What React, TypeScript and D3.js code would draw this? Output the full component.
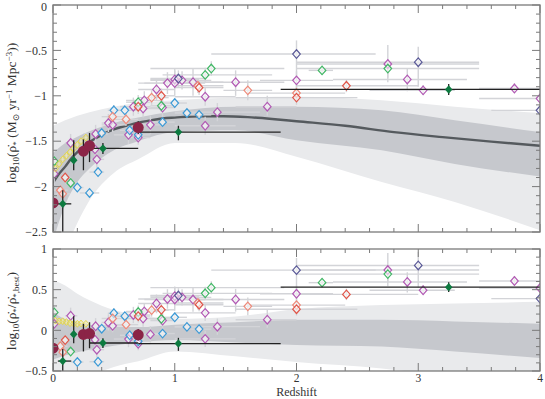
import React from 'react';
import * as d3 from 'd3';

const W = 545;
const H = 399;

// best-fit history (upper panel)
const fitZ = [0, 0.05, 0.1, 0.15, 0.2, 0.25, 0.3, 0.4, 0.5, 0.6, 0.7, 0.8, 0.9, 1.0, 1.2, 1.4, 1.6, 1.8, 2.0, 2.4, 2.8, 3.2, 3.6, 4.0];
const fitV = [-1.96, -1.86, -1.78, -1.69, -1.62, -1.56, -1.51, -1.43, -1.37, -1.33, -1.295, -1.27, -1.25, -1.24, -1.225, -1.225, -1.235, -1.255, -1.28, -1.33, -1.4, -1.455, -1.505, -1.55];

// confidence bands
const bandZ = [0, 0.1, 0.2, 0.3, 0.5, 0.7, 1.0, 1.5, 2.0, 2.7, 3.3, 4.0];
const topOutHi = [-1.33, -1.27, -1.22, -1.18, -1.12, -1.08, -1.05, -1.02, -1.01, -1.05, -1.12, -1.19];
const topInHi = [-1.63, -1.52, -1.45, -1.39, -1.3, -1.24, -1.17, -1.12, -1.12, -1.16, -1.27, -1.4];
const topInLo = [-2.6, -2.2, -1.95, -1.8, -1.6, -1.5, -1.4, -1.38, -1.49, -1.6, -1.75, -1.89];
const topOutLo = [-3.0, -2.7, -2.4, -2.15, -1.85, -1.7, -1.52, -1.52, -1.67, -1.95, -2.17, -2.48];
const resOutHi = [0.62, 0.55, 0.45, 0.37, 0.25, 0.19, 0.14, 0.17, 0.26, 0.31, 0.33, 0.35];
const resInHi = [0.22, 0.14, 0.1, 0.07, 0.04, 0.04, 0.07, 0.1, 0.13, 0.13, 0.11, 0.08];
const resInLo = [-0.36, -0.31, -0.27, -0.24, -0.19, -0.15, -0.12, -0.15, -0.18, -0.2, -0.26, -0.34];
const resOutLo = [-1.2, -0.9, -0.7, -0.58, -0.45, -0.38, -0.26, -0.32, -0.39, -0.47, -0.58, -0.75];

// measurements: [z, value, zLo, zHi, vLo, vHi]
const purplePts = [
  [0.01, -1.86, 0.0, 0.03, -1.98, -1.74],
  [0.145, -1.52, 0.1, 0.2, -1.62, -1.42],
  [0.345, -1.59, 0.3, 0.4, -1.68, -1.5],
  [0.36, -1.7, 0.3, 0.42, -1.8, -1.6],
  [0.35, -1.42, 0.25, 0.45, -1.52, -1.32],
  [0.455, -1.3, 0.4, 0.5, -1.4, -1.2],
  [0.49, -1.32, 0.4, 0.6, -1.4, -1.24],
  [0.62, -1.43, 0.5, 0.75, -1.53, -1.33],
  [0.66, -1.12, 0.55, 0.8, -1.22, -1.02],
  [0.7, -1.46, 0.6, 0.8, -1.54, -1.38],
  [0.74, -1.14, 0.6, 0.9, -1.24, -1.04],
  [0.75, -1.05, 0.6, 0.9, -1.15, -0.95],
  [0.8, -1.32, 0.7, 0.9, -1.42, -1.22],
  [0.85, -0.93, 0.7, 1.0, -1.05, -0.82],
  [0.9, -1.13, 0.8, 1.0, -1.23, -1.03],
  [0.94, -0.86, 0.7, 1.2, -0.98, -0.74],
  [1.0, -0.82, 0.8, 1.2, -0.92, -0.7],
  [1.0, -0.86, 0.75, 1.25, -1.0, -0.72],
  [1.06, -0.83, 0.8, 1.3, -0.93, -0.73],
  [1.15, -0.85, 0.9, 1.4, -1.0, -0.7],
  [1.25, -1.01, 1.0, 1.5, -1.11, -0.91],
  [1.25, -1.33, 1.0, 1.5, -1.43, -1.23],
  [1.35, -1.18, 1.0, 1.7, -1.28, -1.08],
  [1.5, -0.85, 1.1, 1.9, -1.0, -0.72],
  [1.76, -1.12, 1.5, 2.0, -1.22, -1.0],
  [2.0, -0.83, 1.7, 2.3, -0.95, -0.73],
  [2.75, -0.65, 2.0, 3.5, -0.85, -0.44],
  [2.91, -0.82, 2.3, 3.4, -0.95, -0.7],
  [3.04, -0.94, 2.6, 3.3, -0.99, -0.88],
  [3.79, -0.92, 3.5, 4.0, -0.97, -0.86],
  [4.0, -1.03, 3.5, 4.1, -1.08, -0.98],
];
const bluePts = [
  [0.2, -2.01, 0.15, 0.25, -2.06, -1.96],
  [0.3, -2.07, 0.22, 0.38, -2.12, -2.02],
  [0.37, -1.84, 0.3, 0.42, -1.89, -1.79],
  [0.4, -1.41, 0.35, 0.45, -1.46, -1.36],
  [0.5, -1.16, 0.45, 0.55, -1.22, -1.1],
  [0.59, -1.16, 0.5, 0.7, -1.21, -1.11],
  [0.63, -1.38, 0.55, 0.7, -1.43, -1.33],
  [0.7, -1.43, 0.6, 0.8, -1.48, -1.38],
  [0.9, -1.29, 0.8, 1.0, -1.34, -1.24],
  [1.0, -1.08, 0.9, 1.1, -1.13, -1.03],
  [1.1, -1.19, 1.0, 1.2, -1.24, -1.14],
  [1.2, -1.21, 1.1, 1.3, -1.26, -1.16],
];
const greenPts = [
  [0.01, -1.72, 0.0, 0.03, -1.78, -1.66],
  [0.145, -1.96, 0.1, 0.2, -2.01, -1.91],
  [0.7, -1.07, 0.6, 0.8, -1.15, -0.99],
  [0.89, -1.11, 0.8, 1.0, -1.18, -1.04],
  [1.25, -0.77, 0.9, 1.8, -0.85, -0.69],
  [1.3, -0.7, 0.8, 1.9, -0.78, -0.62],
  [2.21, -0.72, 2.1, 2.3, -0.77, -0.67],
  [2.75, -0.7, 2.0, 3.5, -0.8, -0.6],
];
const salmonPts = [
  [0.06, -2.04, 0.0, 0.12, -2.1, -1.98],
  [0.08, -2.08, 0.02, 0.14, -2.14, -2.02],
  [0.49, -1.23, 0.4, 0.6, -1.3, -1.16],
  [0.6, -1.26, 0.5, 0.7, -1.33, -1.19],
  [0.81, -1.02, 0.7, 0.95, -1.1, -0.94],
  [1.19, -0.89, 1.0, 1.4, -0.97, -0.81],
  [1.6, -0.94, 1.4, 1.8, -1.05, -0.83],
  [2.0, -0.97, 1.6, 2.4, -1.07, -0.87],
];
const redPts = [
  [0.1, -1.9, 0.05, 0.15, -1.95, -1.85],
  [0.7, -1.12, 0.6, 0.8, -1.2, -1.04],
  [0.89, -1.0, 0.8, 1.0, -1.08, -0.92],
  [1.2, -0.91, 1.0, 1.4, -0.99, -0.83],
  [2.0, -1.02, 1.5, 2.5, -1.1, -0.94],
  [2.41, -0.89, 2.0, 3.0, -0.96, -0.82],
];
const navyPts = [
  [1.03, -0.81, 0.8, 1.25, -0.9, -0.72],
  [2.0, -0.54, 1.3, 2.65, -0.79, -0.39],
  [3.0, -0.63, 2.0, 3.5, -0.9, -0.46],
  [4.0, -1.16, 3.6, 4.1, -1.2, -1.12],
];
const yellowPts = [
  [0.02, -1.8, 0.01, 0.03, -1.83, -1.77],
  [0.05, -1.75, 0.04, 0.06, -1.78, -1.72],
  [0.08, -1.7, 0.07, 0.09, -1.73, -1.67],
  [0.11, -1.66, 0.1, 0.12, -1.69, -1.63],
  [0.14, -1.62, 0.13, 0.15, -1.65, -1.59],
  [0.17, -1.58, 0.16, 0.18, -1.61, -1.55],
  [0.2, -1.54, 0.19, 0.21, -1.57, -1.51],
  [0.23, -1.5, 0.22, 0.24, -1.53, -1.47],
  [0.27, -1.46, 0.26, 0.28, -1.49, -1.43],
];
const maroonPts = [
  [0.0, -2.18, 0.0, 0.0, -2.6, -1.91],
  [0.25, -1.61, 0.23, 0.27, -1.82, -1.48],
  [0.3, -1.55, 0.28, 0.32, -1.73, -1.41],
  [0.7, -1.35, 0.7, 0.7, -1.42, -1.28],
];
const darkGreenPts = [
  [0.08, -2.19, 0.04, 0.15, -2.6, -2.04],
  [0.17, -1.71, 0.17, 0.17, -1.82, -1.49],
  [0.41, -1.58, 0.3, 0.7, -1.64, -1.52],
  [1.03, -1.4, 0.7, 1.87, -1.49, -1.33],
  [3.25, -0.93, 1.87, 4.0, -0.99, -0.87],
];

const openSeries = [
  { pts: purplePts, color: '#b25ab4' },
  { pts: bluePts, color: '#3d9ad6' },
  { pts: greenPts, color: '#42b866' },
  { pts: salmonPts, color: '#ee8a7a' },
  { pts: redPts, color: '#e0564a' },
  { pts: navyPts, color: '#5b5a98' },
];

const xTicksMajor = [0, 1, 2, 3, 4];
const topTicksMajor = [0, -0.5, -1, -1.5, -2, -2.5];
const botTicksMajor = [1, 0.5, 0, -0.5];

const x = d3.scaleLinear().domain([0, 4]).range([53, 540]);
const yTop = d3.scaleLinear().domain([0, -2.5]).range([5, 232]);
const yBot = d3.scaleLinear().domain([1, -0.5]).range([249, 371]);
const fitAt = d3.scaleLinear().domain(fitZ).range(fitV).clamp(true);

const FONT = 'Liberation Serif, DejaVu Serif, serif';
const fmt = (v: number) => (v < 0 ? '\u2212' + String(-v) : String(v));

const diamond = (cx: number, cy: number, w = 3.8, h = 4.3) =>
  `M${cx},${cy - h}L${cx + w},${cy}L${cx},${cy + h}L${cx - w},${cy}Z`;

function Panel({ y, resid, id }: { y: d3.ScaleLinear<number, number>; resid: boolean; id: string }) {
  const [y0, y1] = y.range();
  const [dTop, dBot] = y.domain();
  const off = (z: number) => (resid ? fitAt(z) : 0);
  const pv = (p: number[], v: number) => y(v - off(p[0]));

  const mkArea = (lo: number[], hi: number[]) =>
    d3.area<number>()
      .x((_, i) => x(bandZ[i]))
      .y0((_, i) => y(lo[i]))
      .y1((_, i) => y(hi[i]))
      .curve(d3.curveMonotoneX)(bandZ) || '';

  const outer = resid ? mkArea(resOutLo, resOutHi) : mkArea(topOutLo, topOutHi);
  const inner = resid ? mkArea(resInLo, resInHi) : mkArea(topInLo, topInHi);
  const fitPath = d3.line<number>()
    .x((_, i) => x(fitZ[i]))
    .y((_, i) => y(fitV[i]))
    .curve(d3.curveMonotoneX)(fitZ) || '';

  const errBars = (pts: number[][], stroke: string, sw: number) =>
    pts.map((p, i) => (
      <g key={i} stroke={stroke} strokeWidth={sw}>
        <line x1={x(p[2])} x2={x(p[3])} y1={pv(p, p[1])} y2={pv(p, p[1])} />
        <line x1={x(p[0])} x2={x(p[0])} y1={pv(p, p[4])} y2={pv(p, p[5])} />
      </g>
    ));

  const minorX = d3.range(0, 4.001, 0.2);
  const minorY = d3.range(Math.ceil(dBot * 10), Math.floor(dTop * 10) + 1).map((k) => k / 10);
  const majorY = resid ? botTicksMajor : topTicksMajor;
  const isMaj = (v: number, list: number[]) => list.some((m) => Math.abs(m - v) < 1e-6);

  return (
    <g>
      <defs>
        <clipPath id={id}>
          <rect x={53} y={y0} width={487} height={y1 - y0} />
        </clipPath>
      </defs>
      <g clipPath={`url(#${id})`}>
        <path d={outer} fill="#e9eaec" />
        <path d={inner} fill="#c6c8cd" />
        {!resid && <path d={fitPath} fill="none" stroke="#555a5e" strokeWidth={2.4} />}
        {openSeries.map((s, k) => <g key={k}>{errBars(s.pts, '#d3d4d8', 1.4)}</g>)}
        {errBars(yellowPts, '#f1eaa8', 1)}
        {openSeries.map((s, k) => (
          <g key={k}>
            {s.pts.map((p, i) => (
              <path key={i} d={diamond(x(p[0]), pv(p, p[1]))} fill="#ffffff" fillOpacity={0.55} stroke={s.color} strokeWidth={1.2} />
            ))}
          </g>
        ))}
        {yellowPts.map((p, i) => (
          <path key={i} d={diamond(x(p[0]), pv(p, p[1]), 3, 3.4)} fill="none" stroke="#e6d84a" strokeWidth={1} />
        ))}
        {errBars(maroonPts, '#222', 1.3)}
        {errBars(darkGreenPts, '#222', 1.3)}
        {maroonPts.map((p, i) => (
          <circle key={i} cx={x(p[0])} cy={pv(p, p[1])} r={5.5} fill="#8b2447" />
        ))}
        {darkGreenPts.map((p, i) => (
          <path key={i} d={diamond(x(p[0]), pv(p, p[1]), 3.8, 4.2)} fill="#0d7a40" />
        ))}
      </g>
      <g stroke="#7a7a7a" strokeWidth={1}>
        {minorX.map((v, i) => {
          const len = isMaj(v, xTicksMajor) ? 8 : 4;
          return (
            <g key={i}>
              <line x1={x(v)} x2={x(v)} y1={y0} y2={y0 + len} />
              <line x1={x(v)} x2={x(v)} y1={y1} y2={y1 - len} />
            </g>
          );
        })}
        {minorY.map((v, i) => {
          const len = isMaj(v, majorY) ? 8 : 4;
          return (
            <g key={i}>
              <line x1={53} x2={53 + len} y1={y(v)} y2={y(v)} />
              <line x1={540} x2={540 - len} y1={y(v)} y2={y(v)} />
            </g>
          );
        })}
      </g>
      <rect x={53} y={y0} width={487} height={y1 - y0} fill="none" stroke="#7a7a7a" strokeWidth={1.3} />
      <g fontFamily={FONT} fontSize={12} fill="#333" textAnchor="end">
        {majorY.map((v, i) => (
          <text key={i} x={47} y={Math.max(y(v), 6.5)} dy="0.35em">{fmt(v)}</text>
        ))}
      </g>
    </g>
  );
}

export default function App() {
  return (
    <svg width={W} height={H} style={{ position: 'fixed', left: 0, top: 0, background: '#fff' }}>
      <Panel y={yTop} resid={false} id="clipTop" />
      <Panel y={yBot} resid={true} id="clipBot" />
      <g fontFamily={FONT} fontSize={11.5} fill="#333" textAnchor="middle">
        {xTicksMajor.map((v, i) => (
          <text key={i} x={x(v)} y={382}>{v}</text>
        ))}
        <text x={x(2)} y={396} fontSize={12}>Redshift</text>
        <text transform="translate(16,113) rotate(-90)" fontSize={13.5}>
          log<tspan dy={3} fontSize={9}>10</tspan>
          <tspan dy={-3}>(ρ̇</tspan>
          <tspan dy={3} fontSize={9}>*</tspan>
          <tspan dy={-3}> (M</tspan>
          <tspan dy={3} fontSize={9}>⊙</tspan>
          <tspan dy={-3}> yr</tspan>
          <tspan dy={-4} fontSize={9}>−1</tspan>
          <tspan dy={4}> Mpc</tspan>
          <tspan dy={-4} fontSize={9}>−3</tspan>
          <tspan dy={4}>))</tspan>
        </text>
        <text transform="translate(16,311) rotate(-90)" fontSize={13.5}>
          log<tspan dy={3} fontSize={9}>10</tspan>
          <tspan dy={-3}>(ρ̇</tspan>
          <tspan dy={3} fontSize={9}>*</tspan>
          <tspan dy={-3}>/ρ̇</tspan>
          <tspan dy={3} fontSize={9}>*,best</tspan>
          <tspan dy={-3}>)</tspan>
        </text>
      </g>
    </svg>
  );
}
